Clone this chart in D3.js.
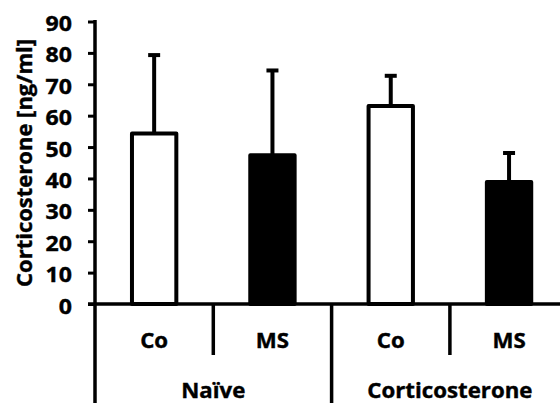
<!DOCTYPE html>
<html>
<head>
<meta charset="utf-8">
<script src="https://cdn.jsdelivr.net/npm/d3@7"></script>
<style>
  body { margin: 0; background: #fff; }
  svg text { font-family: "Open Sans", Lato, sans-serif; font-weight: bold; fill: #000;
             stroke: #000; stroke-width: 0.4px; }
</style>
</head>
<body>
<svg id="chart" width="560" height="403"></svg>
<script>
// data
var categories = ["Co", "MS", "Co", "MS"];
var groups = ["Naïve", "Corticosterone"];
var means = [54.3, 47.4, 63.1, 38.9];
var errors = [25, 27, 9.6, 9.2];
var fills = ["#fff", "#000", "#fff", "#000"];
var yTicks = [0, 10, 20, 30, 40, 50, 60, 70, 80, 90];

var svg = d3.select("svg#chart");

// layout
var x0 = 95, y0 = 304, yTop = 21.5, step = 118.3;
var sx = 1.06; // text is a little wider than the font gives

var y = d3.scaleLinear().domain([0, 90]).range([y0, yTop]);
var x = d3.scaleBand()
  .domain(d3.range(categories.length))
  .range([x0, x0 + step * categories.length])
  .padding(0);
var barW = x.bandwidth() * 0.375;

// y axis
var yAxis = d3.axisLeft(y).tickValues(yTicks).tickSize(7).tickFormat("");
var gy = svg.append("g").attr("transform", "translate(" + x0 + ",0)").call(yAxis);
gy.select(".domain").remove();
gy.selectAll(".tick line").attr("stroke", "#000").attr("stroke-width", 3);
svg.append("line")
  .attr("x1", x0).attr("x2", x0)
  .attr("y1", yTop - 1.5).attr("y2", 403)
  .attr("stroke", "#000").attr("stroke-width", 3.5);

// tick labels
svg.selectAll("g.ylab")
  .data(yTicks)
  .enter()
  .append("g")
  .attr("class", "ylab")
  .attr("transform", function (d) { return "translate(72," + (y(d) + 2) + ") scale(1.1,1)"; })
  .append("text")
  .attr("text-anchor", "end")
  .attr("dy", "0.36em")
  .style("font-size", "21px")
  .text(function (d) { return d; });

// y title
svg.append("text")
  .attr("transform", "translate(32,163) rotate(-90)")
  .attr("text-anchor", "middle")
  .style("font-size", "22px")
  .text("Corticosterone [ng/ml]");

// bars
svg.selectAll("rect.bar")
  .data(means)
  .enter()
  .append("rect")
  .attr("class", "bar")
  .attr("x", function (d, i) { return x(i) + (x.bandwidth() - barW) / 2; })
  .attr("y", function (d) { return y(d); })
  .attr("width", barW)
  .attr("height", function (d) { return y0 - y(d); })
  .attr("fill", function (d, i) { return fills[i]; })
  .attr("stroke", "#000")
  .attr("stroke-width", 4)
  .attr("stroke-linejoin", "round");

// error bars (upper only)
var eb = svg.selectAll("g.err")
  .data(means)
  .enter()
  .append("g")
  .attr("class", "err");
eb.append("line")
  .attr("x1", function (d, i) { return x(i) + x.bandwidth() / 2; })
  .attr("x2", function (d, i) { return x(i) + x.bandwidth() / 2; })
  .attr("y1", function (d) { return y(d); })
  .attr("y2", function (d, i) { return y(d + errors[i]); })
  .attr("stroke", "#000").attr("stroke-width", 4);
eb.append("line")
  .attr("x1", function (d, i) { return x(i) + x.bandwidth() / 2 - 6; })
  .attr("x2", function (d, i) { return x(i) + x.bandwidth() / 2 + 6; })
  .attr("y1", function (d, i) { return y(d + errors[i]); })
  .attr("y2", function (d, i) { return y(d + errors[i]); })
  .attr("stroke", "#000").attr("stroke-width", 4);

// x axis line
svg.append("line")
  .attr("x1", x0 - 7).attr("x2", 570)
  .attr("y1", y0).attr("y2", y0)
  .attr("stroke", "#000").attr("stroke-width", 3.5);

// category separators (short) and group separators (long)
var bounds = d3.range(1, categories.length + 1);
svg.selectAll("line.sep")
  .data(bounds)
  .enter()
  .append("line")
  .attr("class", "sep")
  .attr("x1", function (d) { return x0 + step * d; })
  .attr("x2", function (d) { return x0 + step * d; })
  .attr("y1", y0)
  .attr("y2", function (d) { return d % 2 === 0 ? 403 : 355; })
  .attr("stroke", "#000").attr("stroke-width", 3.5);

// category labels
svg.selectAll("g.cat")
  .data(categories)
  .enter()
  .append("g")
  .attr("class", "cat")
  .attr("transform", function (d, i) { return "translate(" + (x(i) + x.bandwidth() / 2) + ",348) scale(" + sx + ",1)"; })
  .append("text")
  .attr("text-anchor", "middle")
  .style("font-size", "21px")
  .text(function (d) { return d; });

// group labels
svg.selectAll("g.grp")
  .data(groups)
  .enter()
  .append("g")
  .attr("class", "grp")
  .attr("transform", function (d, i) { return "translate(" + (x0 + step * (2 * i + 1)) + ",398) scale(" + sx + ",1)"; })
  .append("text")
  .attr("text-anchor", "middle")
  .style("font-size", "21px")
  .text(function (d) { return d; });
</script>
</body>
</html>
